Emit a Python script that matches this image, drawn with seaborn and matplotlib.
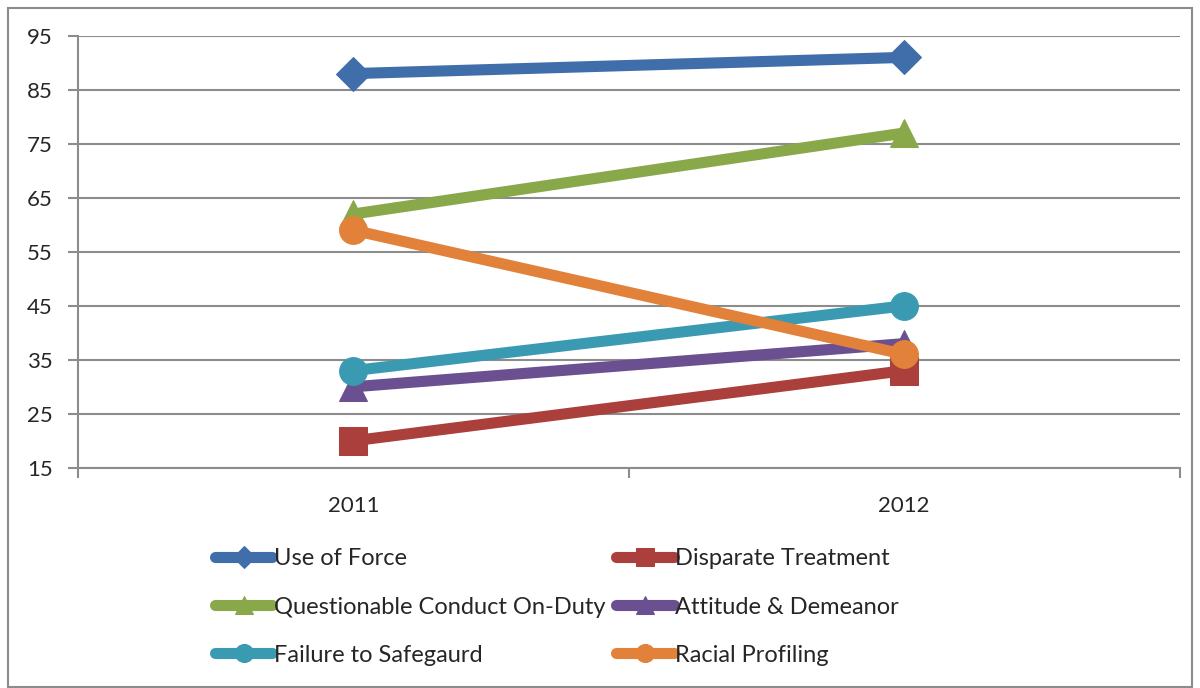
import pandas as pd
import seaborn as sns
import matplotlib.pyplot as plt
from matplotlib.patches import Rectangle

# chart data
years = ['2011', '2012']
use_of_force = [88, 91]
disparate_treatment = [20, 33]
questionable_conduct = [62, 77]
attitude_demeanor = [30, 38]
failure_to_safeguard = [33, 45]
racial_profiling = [59, 36]

series = [
    ('Use of Force', use_of_force, '#3F6EAB', 'D'),
    ('Disparate Treatment', disparate_treatment, '#AA3F3C', 's'),
    ('Questionable Conduct On-Duty', questionable_conduct, '#89A84A', '^'),
    ('Attitude & Demeanor', attitude_demeanor, '#6A5090', '^'),
    ('Failure to Safegaurd', failure_to_safeguard, '#3A9AB2', 'o'),
    ('Racial Profiling', racial_profiling, '#E2823A', 'o'),
]

sns.set_style('white')
plt.rcParams['font.family'] = ['Lato', 'DejaVu Sans']

fig = plt.figure(figsize=(12, 6.88), dpi=100)
ax = fig.add_axes([0.065, 0.32, 0.918, 0.628])

grid_col = '#8C8C8C'
for y in range(15, 96, 10):
    ax.axhline(y, color=grid_col, lw=1.5, zorder=0)

handles = {}
for name, vals, col, mk in series:
    df = pd.DataFrame({'x': [0, 1], 'value': vals})
    sns.lineplot(data=df, x='x', y='value', ax=ax, color=col, lw=8,
                 marker=mk, markersize=20 if mk != 'D' else 17,
                 markeredgecolor=col, markerfacecolor=col,
                 solid_capstyle='round', label=name, legend=False, zorder=3)
    handles[name] = ax.lines[-1]

ax.set_xlim(-0.5, 1.5)
ax.set_ylim(15, 95)
ax.set_yticks(range(15, 96, 10))
ax.set_xticks([0, 1])
ax.set_xticklabels(years)
ax.set_xticks([-0.5, 0.5, 1.5], minor=True)
ax.set_xlabel('')
ax.set_ylabel('')
ax.tick_params(axis='y', which='major', length=7, width=1.5, color=grid_col,
               labelsize=16, pad=11, left=True)
ax.tick_params(axis='x', which='major', length=0, labelsize=16, pad=20)
ax.tick_params(axis='x', which='minor', length=7, width=1.5, color=grid_col,
               bottom=True)
for s in ['top', 'right']:
    ax.spines[s].set_visible(False)
for s in ['left', 'bottom']:
    ax.spines[s].set_color(grid_col)
    ax.spines[s].set_linewidth(1.5)

order = ['Use of Force', 'Questionable Conduct On-Duty', 'Failure to Safegaurd',
         'Disparate Treatment', 'Attitude & Demeanor', 'Racial Profiling']
leg = fig.legend([handles[n] for n in order], order, ncol=2,
                 loc='upper left', bbox_to_anchor=(0.169, 0.22),
                 frameon=False, fontsize=17, handlelength=2.45,
                 handletextpad=0.05, columnspacing=0.45, labelspacing=1.15,
                 borderpad=0, markerscale=0.65)

fig.patches.append(Rectangle((0.007, 0.002), 0.986, 0.986, transform=fig.transFigure,
                             fill=False, edgecolor='#8C8C8C', lw=1.5))

plt.savefig('out.png', dpi=100)
